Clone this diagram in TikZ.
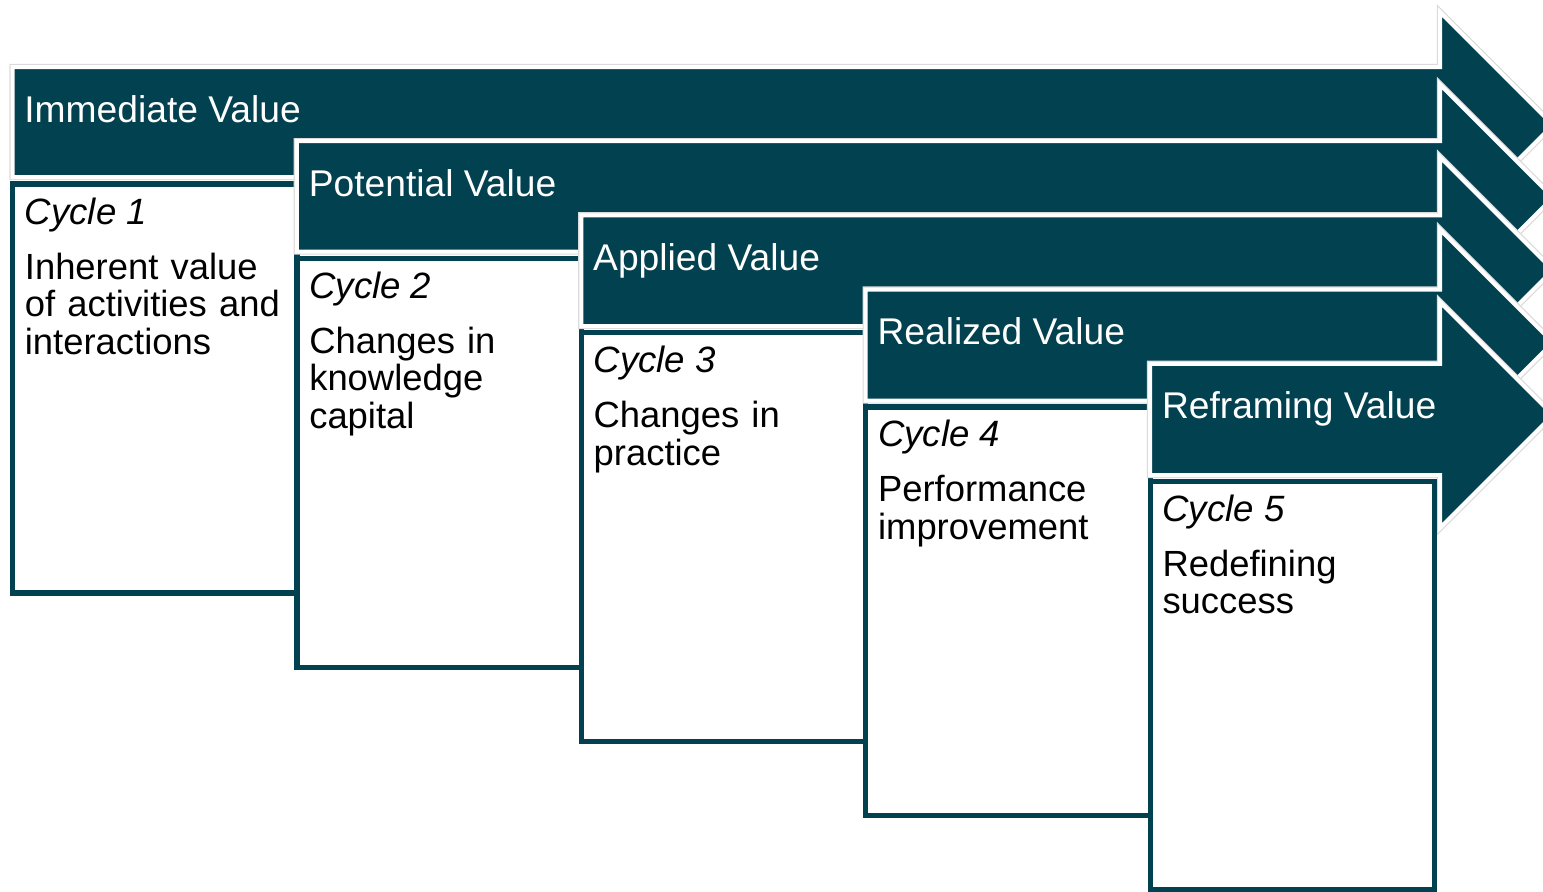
\documentclass[tikz,border=0pt]{standalone}
\usepackage{fontspec}
\setmainfont{Liberation Sans}
\definecolor{teal1}{RGB}{1,65,80}
\begin{document}
\begin{tikzpicture}[x=0.5pt,y=-0.5pt,
  arrowhalo/.style={draw=black!14, line width=3.2pt, line join=miter},
  arrowbody/.style={fill=teal1, draw=white, line width=2pt, line join=miter},
  cyclebox/.style={fill=white, draw=teal1, line width=2.6pt},
  titletext/.style={text=white, font=\fontsize{18.6pt}{18.75pt}\selectfont, inner sep=0pt, anchor=base west},
  cycletext/.style={font=\fontsize{18.3pt}{18.75pt}\selectfont\itshape, inner sep=0pt, anchor=base west},
  bodytext/.style={font=\fontsize{18.2pt}{18.75pt}\selectfont, inner sep=0pt, anchor=base west, text width=140pt, align=left}]
\useasboundingbox (0,0) rectangle (1543,891);
\clip (0,0) rectangle (1543,891);
\foreach \i/\title/\body in {0/Immediate Value/{Inherent value\\of activities and\\interactions}, 1/Potential Value/{Changes in\\knowledge\\capital}, 2/Applied Value/{Changes in\\practice}, 3/Realized Value/{Performance\\improvement}, 4/Reframing Value/{Redefining\\success}}{
  \pgfmathsetmacro\myxA{12.5+284.4*\i}
  \pgfmathsetmacro\myxB{\myxA+284.4}
  \pgfmathsetmacro\mytA{67+74.2*\i}
  \pgfmathsetmacro\mybA{177+74.5*\i}
  \pgfmathsetmacro\myhC{125+72.5*\i}
  \pgfmathsetmacro\myhTop{\myhC-113}
  \pgfmathsetmacro\myhBot{\myhC+113}
  \pgfmathsetmacro\mybxT{184+74.3*\i}
  \pgfmathsetmacro\mybxB{593+74.2*\i}
  \pgfmathtruncatemacro\mynum{\i+1}
  \path[arrowhalo] (\myxA,\mytA) -- (1440,\mytA) -- (1440,\myhTop) -- (1553,\myhC) -- (1440,\myhBot) -- (1440,\mybA) -- (\myxA,\mybA) -- cycle;
  \path[arrowbody] (\myxA,\mytA) -- (1440,\mytA) -- (1440,\myhTop) -- (1553,\myhC) -- (1440,\myhBot) -- (1440,\mybA) -- (\myxA,\mybA) -- cycle;
  \node[titletext] (title\i) at (\myxA+11.5,\mytA+55) {\title};
  \draw[cyclebox] (\myxA,\mybxT) rectangle (\myxB,\mybxB);
  \node[cycletext] (cycle\i) at (\myxA+12,\mybxT+40) {Cycle \mynum};
  \node[bodytext] (body\i) at (\myxA+12,\mybxT+95) {\body};
}
\end{tikzpicture}
\end{document}
